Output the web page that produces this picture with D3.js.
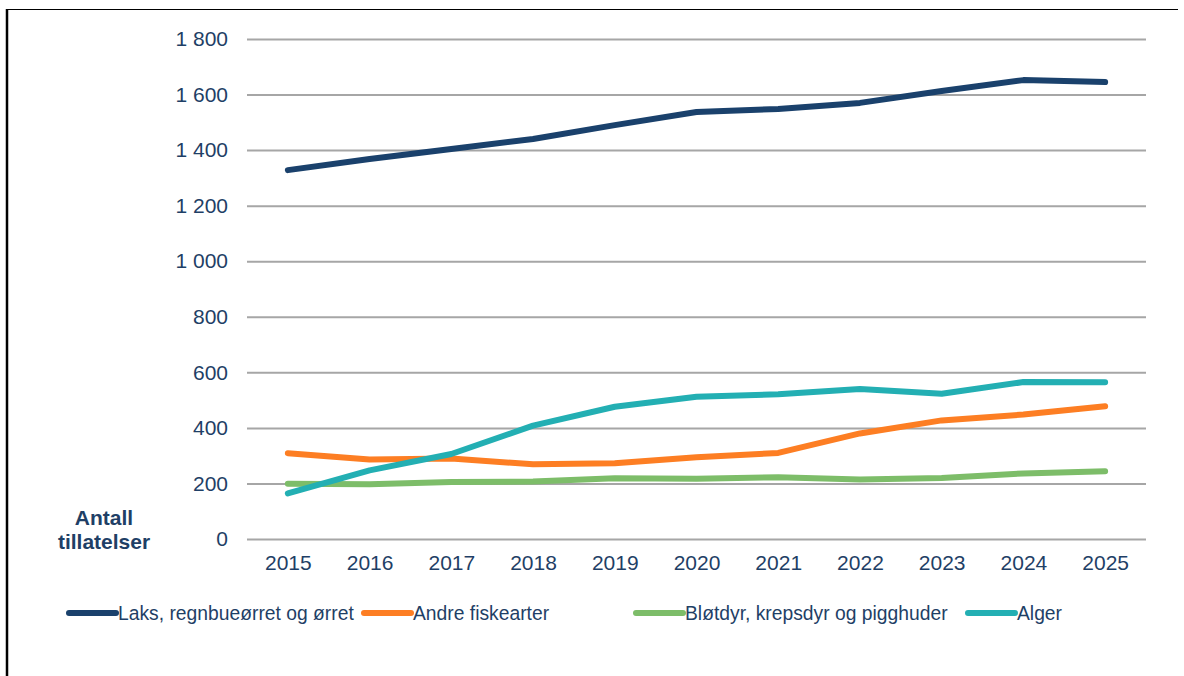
<!DOCTYPE html>
<meta http-equiv="Content-type" content="text/html; charset=UTF-8"/>
<style>
  body { margin: 0; background: #fff; }
  * { font-family: 'Liberation Sans', Arial, sans-serif }
</style>
<svg width="1184" height="676"></svg>
<script src="https://cdnjs.cloudflare.com/ajax/libs/d3/7.8.5/d3.min.js"></script>
<script>
var years = [2015, 2016, 2017, 2018, 2019, 2020, 2021, 2022, 2023, 2024, 2025];
var laks = [1328, 1368, 1404, 1440, 1490, 1537, 1548, 1570, 1613, 1652, 1645];
var andre = [309, 286, 290, 269, 273, 294, 310, 380, 427, 448, 478];
var blotdyr = [199, 197, 205, 207, 219, 217, 222, 214, 220, 236, 244];
var alger = [164, 247, 306, 408, 476, 512, 521, 540, 523, 565, 564];
var yTicks = [0, 200, 400, 600, 800, 1000, 1200, 1400, 1600, 1800];

var seriesNames = ["Laks, regnbueørret og ørret", "Andre fiskearter", "Bløtdyr, krepsdyr og pigghuder", "Alger"];
var seriesColors = ["#1a416c", "#fd7e23", "#7dbd69", "#23afb3"];
var seriesValues = [laks, andre, blotdyr, alger];

var textColor = "#1f3f66";

var svg = d3.select("svg");

// frame
svg.append("line").attr("x1", 7).attr("x2", 7).attr("y1", 9).attr("y2", 676)
    .attr("stroke", "#000").attr("stroke-width", 2.5);
svg.append("line").attr("x1", 7).attr("x2", 1178).attr("y1", 9.5).attr("y2", 9.5)
    .attr("stroke", "#000").attr("stroke-width", 1);

var plotLeft = 247, plotRight = 1146, plotTop = 39, plotBottom = 539;

var x = d3.scalePoint().domain(years).range([plotLeft, plotRight]).padding(0.5);
var y = d3.scaleLinear().domain([0, 1800]).range([plotBottom, plotTop]);

// grid + y labels
var yAxis = svg.append("g")
    .attr("transform", "translate(" + plotLeft + ",0)")
    .call(d3.axisLeft(y).tickValues(yTicks).tickSize(-(plotRight - plotLeft)).tickPadding(19)
      .tickFormat(function(d) { return d3.format(",")(d).replace(",", " "); }));
yAxis.select(".domain").remove();
yAxis.selectAll(".tick line").attr("stroke", "#a6a6a6").attr("stroke-width", 2);
yAxis.selectAll(".tick text").attr("fill", textColor).style("font-size", "21px");

// x labels
var xAxis = svg.append("g")
    .attr("transform", "translate(0," + plotBottom + ")")
    .call(d3.axisBottom(x).tickSize(0).tickPadding(16));
xAxis.select(".domain").remove();
xAxis.selectAll(".tick text").attr("fill", textColor).style("font-size", "21px");

// axis title
var title = svg.append("text")
    .attr("text-anchor", "middle")
    .attr("fill", textColor)
    .style("font-size", "21px")
    .style("font-weight", "bold");
title.append("tspan").attr("x", 104).attr("y", 525).text("Antall");
title.append("tspan").attr("x", 104).attr("y", 549).text("tillatelser");

var line = d3.line()
    .x(function(d, i) { return x(years[i]); })
    .y(function(d) { return y(d); });

seriesValues.forEach(function(vals, k) {
  svg.append("path")
      .datum(vals)
      .attr("fill", "none")
      .attr("stroke", seriesColors[k])
      .attr("stroke-width", 6)
      .attr("stroke-linecap", "round")
      .attr("stroke-linejoin", "round")
      .attr("d", line);
});

// legend
var legendX = [69, 364, 636, 968];
var legend = svg.append("g");
seriesNames.forEach(function(name, k) {
  legend.append("line")
      .attr("x1", legendX[k]).attr("x2", legendX[k] + 47)
      .attr("y1", 613).attr("y2", 613)
      .attr("stroke", seriesColors[k])
      .attr("stroke-width", 6)
      .attr("stroke-linecap", "round");
  legend.append("text")
      .attr("x", legendX[k] + 49)
      .attr("y", 620)
      .attr("fill", textColor)
      .style("font-size", "19.3px")
      .text(name);
});
</script>
